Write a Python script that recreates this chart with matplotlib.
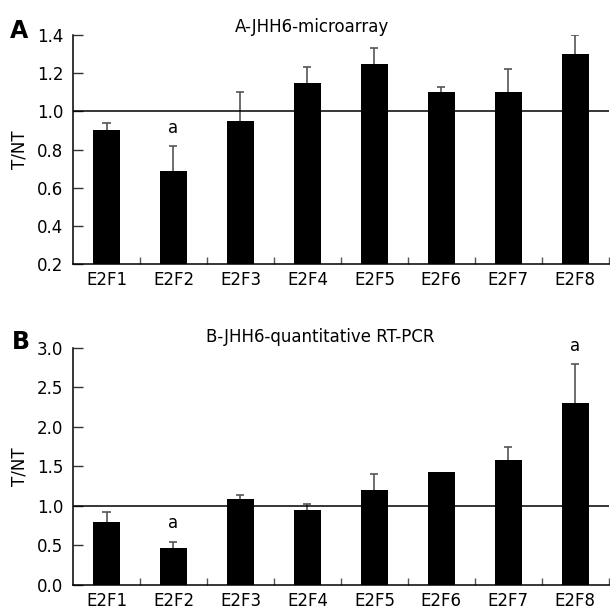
import matplotlib
matplotlib.use("Agg")
import matplotlib.pyplot as plt
import numpy as np

# data
GENES = ["E2F1", "E2F2", "E2F3", "E2F4", "E2F5", "E2F6", "E2F7", "E2F8"]

MICRO_MEAN = [0.90, 0.69, 0.95, 1.15, 1.25, 1.10, 1.10, 1.30]
MICRO_ERR  = [0.04, 0.13, 0.15, 0.08, 0.08, 0.03, 0.12, 0.10]
MICRO_SIG  = [1]

PCR_MEAN = [0.80, 0.47, 1.09, 0.95, 1.20, 1.43, 1.58, 2.31]
PCR_ERR  = [0.12, 0.08, 0.05, 0.08, 0.21, 0.00, 0.17, 0.49]
PCR_SIG  = [1, 7]

plt.rcParams["font.family"] = ["DejaVu Sans"]
FS = 12

fig = plt.figure(figsize=(6.10, 6.13), dpi=100)
axA = fig.add_axes([0.1197, 0.5693, 0.8783, 0.3736])
axB = fig.add_axes([0.1197, 0.0457, 0.8783, 0.3866])


def draw(ax, mean, err, sig, ylim, yticks):
    x = np.arange(len(GENES))
    m = np.array(mean)
    e = np.array(err)
    ax.bar(x, m, width=0.4, color="black", zorder=2)
    # upper error bars only (stem + cap)
    has = e > 0
    ax.vlines(x[has], m[has], m[has] + e[has], color="#555555", lw=1.2,
              zorder=1)
    ax.hlines(m[has] + e[has], x[has] - 0.06, x[has] + 0.06,
              color="#555555", lw=1.2, zorder=1)
    ax.axhline(1.0, color="black", lw=1.1, zorder=3)
    for i in sig:
        ax.annotate("a", xy=(i, mean[i] + err[i]), xytext=(0, 13),
                    textcoords="offset points", ha="center", va="center",
                    fontsize=FS)
    ax.set_xlim(-0.5, len(GENES) - 0.5)
    ax.set_ylim(*ylim)
    ax.set_yticks(yticks)
    ax.set_yticklabels([f"{v:.1f}" for v in yticks], fontsize=FS)
    ax.set_xticks(x + 0.5)
    ax.set_xticklabels([])
    ax.set_xticks(x, minor=True)
    ax.set_xticklabels(GENES, minor=True, fontsize=FS)
    ax.tick_params(axis="x", which="major", direction="in", length=5,
                   color="#555555", width=1)
    ax.tick_params(axis="x", which="minor", length=0, pad=5)
    ax.tick_params(axis="y", direction="in", length=7, color="#333333",
                   width=1, pad=7)
    for s in ("top", "right"):
        ax.spines[s].set_visible(False)
    for s in ("left", "bottom"):
        ax.spines[s].set_linewidth(1.1)
    ax.set_ylabel("T/NT", fontsize=FS)
    ax.yaxis.set_label_coords(-0.083, 0.5)


draw(axA, MICRO_MEAN, MICRO_ERR, MICRO_SIG, (0.2, 1.4),
     [0.2, 0.4, 0.6, 0.8, 1.0, 1.2, 1.4])
draw(axB, PCR_MEAN, PCR_ERR, PCR_SIG, (0.0, 3.0),
     [0.0, 0.5, 1.0, 1.5, 2.0, 2.5, 3.0])

fig.text(0.511, 1 - 26.7 / 613, "A-JHH6-microarray", ha="center",
         va="center", fontsize=FS)
fig.text(0.525, 1 - 337 / 613, "B-JHH6-quantitative RT-PCR", ha="center",
         va="center", fontsize=FS)
fig.text(19 / 610, 1 - 31 / 613, "A", ha="center", va="center",
         fontsize=17, fontweight="bold")
fig.text(21 / 610, 1 - 341.5 / 613, "B", ha="center", va="center",
         fontsize=17, fontweight="bold")

fig.savefig("out.png", dpi=100)
